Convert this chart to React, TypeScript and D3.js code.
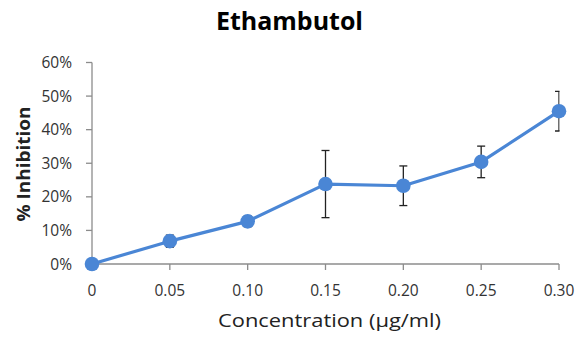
import React from "react";
import * as d3 from "d3";

const concentrations = ["0", "0.05", "0.10", "0.15", "0.20", "0.25", "0.30"];
const inhibition = [0, 6.8, 12.7, 23.8, 23.3, 30.4, 45.5];
const errors = [0, 1.8, 1.6, 10.0, 5.9, 4.7, 5.9];
const yTicks = [0, 10, 20, 30, 40, 50, 60];

const W = 585;
const H = 339;
const left = 92;
const right = 559;
const top = 62.5;
const bottom = 264;
const FONT = "'Open Sans', Lato, sans-serif";
const AXIS = "#8c8c8c";
const BLUE = "#4a86d5";

export default function App() {
  const x = d3.scalePoint<string>().domain(concentrations).range([left, right]);
  const y = d3.scaleLinear().domain([0, 60]).range([bottom, top]);
  const pts = concentrations.map((c, i) => ({ c, v: inhibition[i], e: errors[i] }));
  const line = d3
    .line<{ c: string; v: number }>()
    .x((d) => x(d.c)!)
    .y((d) => y(d.v));

  return (
    <svg
      width={W}
      height={H}
      style={{ position: "absolute", left: 0, top: 0, background: "#fff" }}
      fontFamily={FONT}
    >
      <defs>
        <clipPath id="plot">
          <rect x={left - 10} y={0} width={right - left + 10.5} height={H} />
        </clipPath>
      </defs>
      <text
        x={289.5}
        y={29.5}
        textAnchor="middle"
        fontSize={25}
        fontWeight="bold"
        fill="#000"
        textLength={147}
        lengthAdjust="spacingAndGlyphs"
      >
        Ethambutol
      </text>

      {/* y axis */}
      <line x1={left} x2={left} y1={top} y2={bottom} stroke={AXIS} strokeWidth={1.3} />
      {yTicks.map((t) => (
        <g key={t}>
          <line x1={left - 6} x2={left} y1={y(t)} y2={y(t)} stroke={AXIS} strokeWidth={1.3} />
          <text x={72} y={y(t) + 5.5} textAnchor="end" fontSize={15.5} fill="#333">
            {t}%
          </text>
        </g>
      ))}

      {/* x axis */}
      <line x1={left} x2={right} y1={bottom} y2={bottom} stroke={AXIS} strokeWidth={1.3} />
      {concentrations.map((c) => (
        <g key={c}>
          <line x1={x(c)!} x2={x(c)!} y1={bottom} y2={bottom + 6} stroke={AXIS} strokeWidth={1.3} />
          <text x={x(c)!} y={296} textAnchor="middle" fontSize={15.5} fill="#333">
            {c}
          </text>
        </g>
      ))}

      <text
        x={329.5}
        y={327}
        textAnchor="middle"
        fontSize={18}
        fill="#222"
        textLength={223}
        lengthAdjust="spacingAndGlyphs"
      >
        Concentration (µg/ml)
      </text>
      <text
        transform={`translate(30,164) rotate(-90)`}
        textAnchor="middle"
        fontSize={18}
        fontWeight="bold"
        fill="#222"
        textLength={115}
        lengthAdjust="spacingAndGlyphs"
      >
        % Inhibition
      </text>

      {/* error bars */}
      <g clipPath="url(#plot)" stroke="#222" strokeWidth={1.3}>
        {pts
          .filter((d) => d.e > 0)
          .map((d) => {
            const cx = x(d.c)!;
            const y1 = y(d.v + d.e);
            const y2 = y(d.v - d.e);
            return (
              <g key={d.c}>
                <line x1={cx} x2={cx} y1={y1} y2={y2} />
                <line x1={cx - 4} x2={cx + 4} y1={y1} y2={y1} />
                <line x1={cx - 4} x2={cx + 4} y1={y2} y2={y2} />
              </g>
            );
          })}
      </g>

      {/* series */}
      <path d={line(pts)!} fill="none" stroke={BLUE} strokeWidth={3.2} strokeLinejoin="round" />
      {pts.map((d) => (
        <circle key={d.c} cx={x(d.c)!} cy={y(d.v)} r={7.3} fill={BLUE} />
      ))}
    </svg>
  );
}
